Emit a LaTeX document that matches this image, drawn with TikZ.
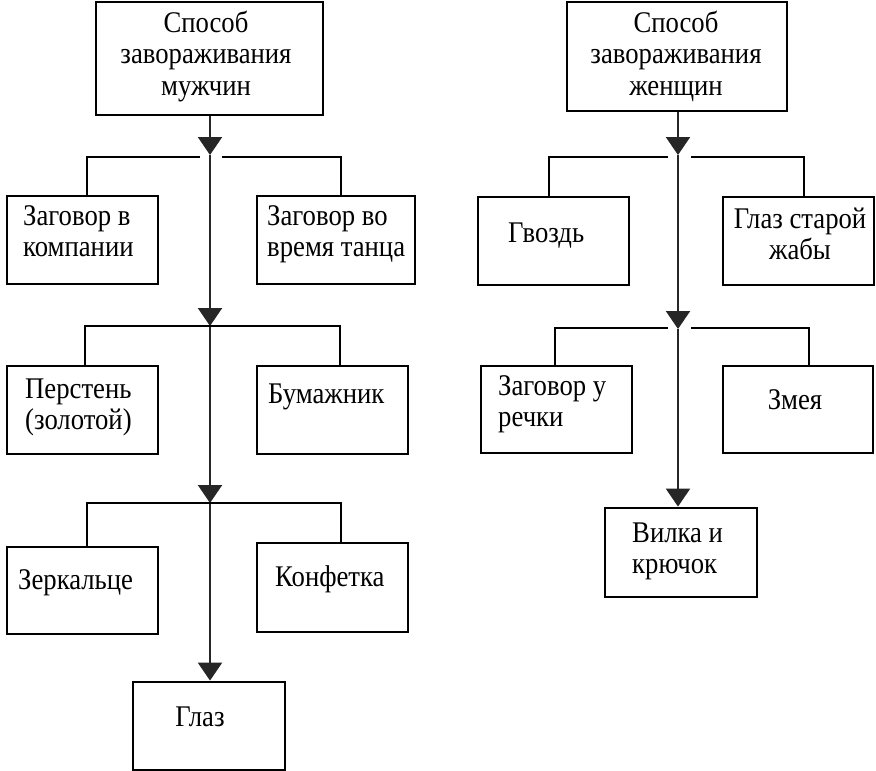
\documentclass[tikz,border=0pt]{standalone}
\usepackage{fontspec}
\setmainfont{Liberation Serif}[FakeStretch=0.89]
\usetikzlibrary{arrows.meta}
\newcommand{\tfont}{\fontsize{30}{31.5}\selectfont}
\begin{document}
\begin{tikzpicture}[x=1pt,y=-1pt,
  box/.style={draw,line width=2.8pt,inner sep=0pt},
  txt/.style={inner sep=0pt,font=\tfont,align=left},
  ctxt/.style={inner sep=0pt,font=\tfont,align=center},
  bar/.style={line width=2.4pt},
  vline/.style={line width=2.2pt,draw=black!85},
  arr/.style={-{Triangle[width=24pt,length=18pt]}}]
\path[use as bounding box,fill=white] (0,0) rectangle (876,771);

% ---------- left tree ----------
\node[box,minimum width=227pt,minimum height=113pt] (mt) at (209.5,58.5) {};
\node[ctxt,anchor=north] (mtt) at (206,10) {\strut Способ\\завораживания\\мужчин};
\node[box,minimum width=151pt,minimum height=88pt] (m1l) at (82.5,240) {};
\node[txt,anchor=north west] (m1lt) at (23,203) {\strut Заговор в\\компании};
\node[box,minimum width=158pt,minimum height=88pt] (m1r) at (336,240) {};
\node[txt,anchor=north west] (m1rt) at (267,203) {\strut Заговор во\\время танца};
\node[box,minimum width=151pt,minimum height=88pt] (m2l) at (82.5,410) {};
\node[txt,anchor=north west] (m2lt) at (25,376) {\strut Перстень\\(золотой)};
\node[box,minimum width=151pt,minimum height=88pt] (m2r) at (332.5,410) {};
\node[txt,anchor=north west] (m2rt) at (268,381) {\strut Бумажник};
\node[box,minimum width=151pt,minimum height=87pt] (m3l) at (82.5,590.5) {};
\node[txt,anchor=north west] (m3lt) at (18,567) {\strut Зеркальце};
\node[box,minimum width=151pt,minimum height=89pt] (m3r) at (332.5,587.5) {};
\node[txt,anchor=north west] (m3rt) at (275,564) {\strut Конфетка};
\node[box,minimum width=152pt,minimum height=88pt] (mg) at (209,726) {};
\node[ctxt,anchor=north] (mgt) at (200,704) {\strut Глаз};

\coordinate (mj1) at (210,155);
\coordinate (mj2) at (210,326);
\coordinate (mj3) at (210,503);
\draw[vline,arr] (mj1 |- mt.south) -- (mj1);
\draw[vline,arr] (mj1) -- (mj2);
\draw[vline,arr] (mj2) -- (mj3);
\draw[vline,arr] (mj3) -- (mj3 |- mg.north);

\coordinate (mb1l) at (87,157);
\coordinate (mb1a) at (200,157);
\coordinate (mb1b) at (222,157);
\coordinate (mb1r) at (341,157);
\draw[bar] (mb1l |- m1l.north) -- (mb1l) -- (mb1a);
\draw[bar] (mb1b) -- (mb1r) -- (mb1r |- m1r.north);
\coordinate (mb2l) at (85,326);
\coordinate (mb2r) at (340,326);
\draw[bar] (mb2l |- m2l.north) -- (mb2l) -- (mb2r) -- (mb2r |- m2r.north);
\coordinate (mb3l) at (87,503);
\coordinate (mb3r) at (341,503);
\draw[bar] (mb3l |- m3l.north) -- (mb3l) -- (mb3r) -- (mb3r |- m3r.north);

% ---------- right tree ----------
\node[box,minimum width=220pt,minimum height=109pt] (ft) at (677,56.5) {};
\node[ctxt,anchor=north] (ftt) at (676,10) {\strut Способ\\завораживания\\женщин};
\node[box,minimum width=151pt,minimum height=88pt] (f1l) at (553.5,241) {};
\node[txt,anchor=north west] (f1lt) at (508,220) {\strut Гвоздь};
\node[box,minimum width=151pt,minimum height=88pt] (f1r) at (798.5,241) {};
\node[ctxt,anchor=north] (f1rt) at (800,206) {\strut Глаз старой\\жабы};
\node[box,minimum width=151pt,minimum height=87pt] (f2l) at (556.5,409.5) {};
\node[txt,anchor=north west] (f2lt) at (498,373) {\strut Заговор у\\речки};
\node[box,minimum width=150pt,minimum height=87pt] (f2r) at (798,409.5) {};
\node[ctxt,anchor=north] (f2rt) at (795,387) {\strut Змея};
\node[box,minimum width=152pt,minimum height=89pt] (f3) at (681,552.5) {};
\node[txt,anchor=north west] (f3t) at (632,520) {\strut Вилка и\\крючок};

\coordinate (fj1) at (678,155);
\coordinate (fj2) at (678,329);
\draw[vline,arr] (fj1 |- ft.south) -- (fj1);
\draw[vline,arr] (fj1) -- (fj2);
\draw[vline,arr] (fj2) -- (fj2 |- f3.north);

\coordinate (fb1l) at (549,157);
\coordinate (fb1a) at (668,157);
\coordinate (fb1b) at (691,157);
\coordinate (fb1r) at (804,157);
\draw[bar] (fb1l |- f1l.north) -- (fb1l) -- (fb1a);
\draw[bar] (fb1b) -- (fb1r) -- (fb1r |- f1r.north);
\coordinate (fb2l) at (555,328);
\coordinate (fb2a) at (668,328);
\coordinate (fb2b) at (691,328);
\coordinate (fb2r) at (809,328);
\draw[bar] (fb2l |- f2l.north) -- (fb2l) -- (fb2a);
\draw[bar] (fb2b) -- (fb2r) -- (fb2r |- f2r.north);
\end{tikzpicture}
\end{document}
